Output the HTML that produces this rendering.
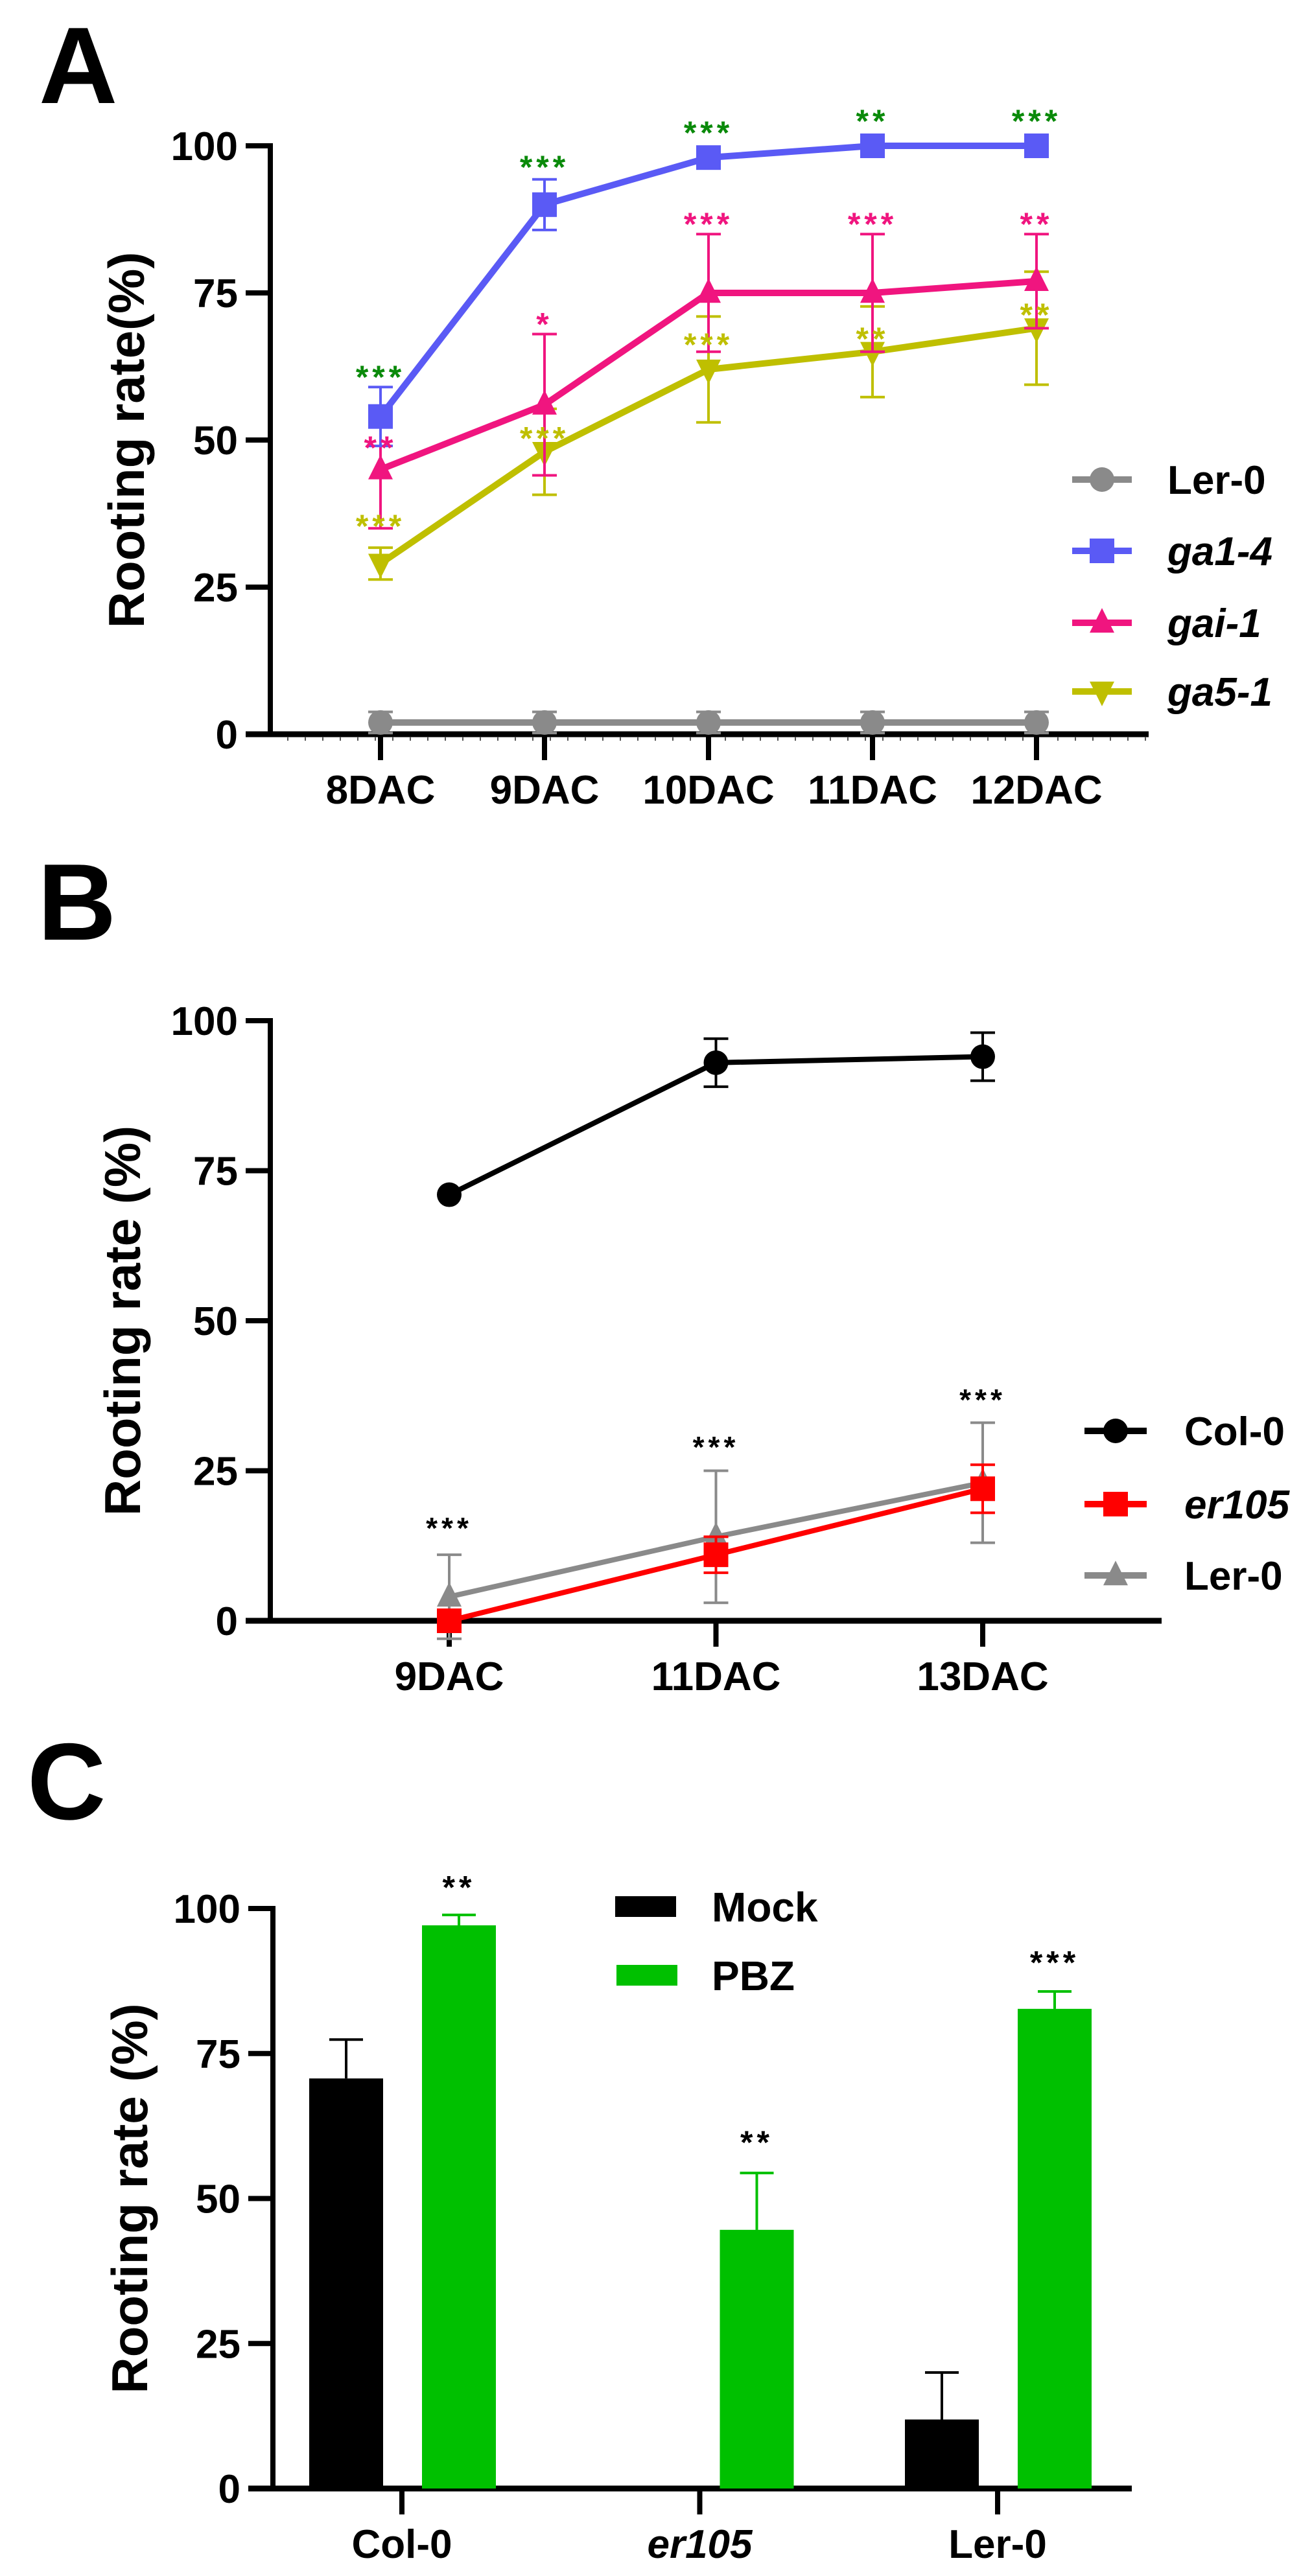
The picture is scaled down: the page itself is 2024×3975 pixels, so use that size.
<!DOCTYPE html>
<html><head><meta charset="utf-8">
<style>
html,body{margin:0;padding:0;background:#fff;}
svg{display:block;}
text{font-family:"Liberation Sans",Arial,sans-serif;font-weight:bold;}
</style></head>
<body>
<svg id="fig" width="2024" height="3975" viewBox="0 0 2024 3975" xmlns="http://www.w3.org/2000/svg">
<rect width="2024" height="3975" fill="#fff"/>
<text x="60" y="159" font-size="168">A</text>
<text x="58" y="1450" font-size="168">B</text>
<text x="42" y="2807" font-size="168">C</text>
<g id="pa"></g>
<g id="pb"></g>
<g id="pc"></g>
</svg>
<script>
// ---------- Panel A data ----------
const catsA = ["8DAC","9DAC","10DAC","11DAC","12DAC"];
const lerA = [2,2,2,2,2];
const lerAErr = [1.8,1.8,1.8,1.8,1.8];
const ga14 = [54,90,98,100,100];
const ga14Err = [5,4.3,0,0,0];
const gai1 = [45,56,75,75,77];
const gai1Err = [10,12,10,10,8];
const ga51 = [29,48,62,65,69];
const ga51Err = [2.7,7.3,9,7.7,9.6];
const starsGreen = ["***","***","***","**","***"];
const starsGreenY = [62,97.7,103.5,105.5,105.5];
const starsPink = ["**","*","***","***","**"];
const starsPinkY = [50,71,88,88,88];
const starsOlive = ["***","***","***","**","**"];
const starsOliveY = [36.7,51.6,67.5,68.5,72.6];
const ticksA = [0,25,50,75,100];

// ---------- Panel B data ----------
const catsB = ["9DAC","11DAC","13DAC"];
const col0B = [71,93,94];
const col0BErr = [0,4,4];
const er105B = [0,11,22];
const er105BErr = [0,3,4];
const lerB = [4,14,23];
const lerBErr = [7,11,10];
const starsB = ["***","***","***"];
const starsBY = [16.6,30.1,38];
const ticksB = [0,25,50,75,100];

// ---------- Panel C data ----------
const catsC = ["Col-0","er105","Ler-0"];
const mockC = [70.7,null,11.9];
const mockCErr = [6.7,null,8.1];
const pbzC = [97.1,44.6,82.7];
const pbzCErr = [1.8,9.8,3];
const starsC = ["**","**","***"];
const starsCY = [105,61,92];
const ticksC = [0,25,50,75,100];

const NS="http://www.w3.org/2000/svg";
function mk(parent,tag,attrs,txt){
  const e=document.createElementNS(NS,tag);
  for(const k in attrs) e.setAttribute(k,attrs[k]);
  if(txt!==undefined) e.textContent=txt;
  parent.appendChild(e); return e;
}
function yAxis(g,x0,yS,ticks,xEnd,title,titleX){
  const ax=mk(g,'line',{x1:x0,y1:yS(100)-4,x2:x0,y2:yS(0)+4,stroke:'#000','stroke-width':8});
  
  
  ticks.forEach(t=>{
    const tl=mk(g,'line',{x1:x0-38,y1:yS(t),x2:x0,y2:yS(t),stroke:'#000','stroke-width':8});
    
    
    const tx=mk(g,'text',{x:x0-50,y:yS(t)+22,'font-size':62,'text-anchor':'end'},String(t));
    
    
  });
  const xa=mk(g,'line',{x1:x0-38,y1:yS(0),x2:xEnd,y2:yS(0),stroke:'#000','stroke-width':9});
  
  
  const cy=(yS(0)+yS(100))/2;
  const tt=mk(g,'text',{x:titleX,y:cy,'font-size':78,'text-anchor':'middle',transform:`rotate(-90 ${titleX} ${cy})`},title);
  
  
}
function xTicks(g,cats,xS,y0,italicIdx){
  cats.forEach((c,i)=>{
    const l=mk(g,'line',{x1:xS(i),y1:y0,x2:xS(i),y2:y0+40,stroke:'#000','stroke-width':8});
    
    
    const t=mk(g,'text',{x:xS(i),y:y0+107,'font-size':62,'text-anchor':'middle','font-style':(italicIdx===i?'italic':'normal')},c);
    
    
  });
}
function marker(g,shape,x,y,color,s){
  let e;
  if(shape==='circle') e=mk(g,'circle',{cx:x,cy:y,r:s/2,fill:color});
  else if(shape==='square') e=mk(g,'rect',{x:x-s/2,y:y-s/2,width:s,height:s,fill:color});
  else if(shape==='up') e=mk(g,'polygon',{points:`${x},${y-s*0.6} ${x+s/2},${y+s*0.4} ${x-s/2},${y+s*0.4}`,fill:color});
  else e=mk(g,'polygon',{points:`${x},${y+s*0.6} ${x+s/2},${y-s*0.4} ${x-s/2},${y-s*0.4}`,fill:color});
  
  
  return e;
}
function series(g,vals,errs,xS,yS,color,shape,name,lw){
  const grp=mk(g,'g',{});
  
  
  vals.forEach((v,i)=>{
    if(!errs[i]) return;
    const eb=mk(grp,'path',{d:`M${xS(i)},${yS(v+errs[i])}V${yS(v-errs[i])}M${xS(i)-19},${yS(v+errs[i])}H${xS(i)+19}M${xS(i)-19},${yS(v-errs[i])}H${xS(i)+19}`,stroke:color,'stroke-width':4,fill:'none'});
    
    
  });
  const pl=mk(grp,'polyline',{points:vals.map((v,i)=>xS(i)+','+yS(v)).join(' '),stroke:color,'stroke-width':lw,fill:'none','stroke-linejoin':'round'});
  
  
  vals.forEach((v,i)=>marker(grp,shape,xS(i),yS(v),color,38));
}
function stars(g,labels,ys,xS,yS,color,fs){
  labels.forEach((s,i)=>{
    const t=mk(g,'text',{x:xS(i),y:yS(ys[i])+fs*0.58,'font-size':fs,'text-anchor':'middle',fill:color,'letter-spacing':6,'font-weight':'normal'},s);
    
    
  });
}
function legendRow(g,y,x1,x2,tx,color,shape,label,italic){
  const lg=mk(g,'g',{});
  
  
  mk(lg,'line',{x1:x1,y1:y,x2:x2,y2:y,stroke:color,'stroke-width':10});
  marker(lg,shape,(x1+x2)/2,y,color,38);
  mk(lg,'text',{x:tx,y:y+22,'font-size':62,'font-style':italic?'italic':'normal'},label);
}

// ---------- Panel A ----------
(function(){
  const g=document.getElementById('pa');
  const y0=1133,y100=225,x0=417;
  const yS=v=>y0-(y0-y100)*v/100;
  const xS=i=>587+i*253;
  yAxis(g,x0,yS,ticksA,1772,'Rooting rate(%)',222);
  for(let x=x0+27;x<1772;x+=27){ if(catsA.some((c,i)=>Math.abs(xS(i)-x)<8)) continue;
    const m=mk(g,'line',{x1:x,y1:y0+4,x2:x,y2:y0+10,stroke:'#555','stroke-width':2});
    
    
  }
  xTicks(g,catsA,xS,y0);
  series(g,ga51,ga51Err,xS,yS,'#bfbf00','down','ga5-1',10);
  series(g,gai1,gai1Err,xS,yS,'#f0157f','up','gai-1',10);
  series(g,ga14,ga14Err,xS,yS,'#5a5af5','square','ga1-4',10);
  series(g,lerA,lerAErr,xS,yS,'#8a8a8a','circle','ler-0',10);
  stars(g,starsGreen,starsGreenY,xS,yS,'#0a8a0a',50);
  stars(g,starsPink,starsPinkY,xS,yS,'#f0157f',50);
  stars(g,starsOlive,starsOliveY,xS,yS,'#bfbf00',50);
  legendRow(g,740,1654,1746,1801,'#8a8a8a','circle','Ler-0',false);
  legendRow(g,850,1654,1746,1801,'#5a5af5','square','ga1-4',true);
  legendRow(g,961,1654,1746,1801,'#f0157f','up','gai-1',true);
  legendRow(g,1067,1654,1746,1801,'#bfbf00','down','ga5-1',true);
})();

// ---------- Panel B ----------
(function(){
  const g=document.getElementById('pb');
  const y0=2501,y100=1575,x0=417;
  const yS=v=>y0-(y0-y100)*v/100;
  const xS=i=>693+i*411.5;
  yAxis(g,x0,yS,ticksB,1792,'Rooting rate (%)',216);
  xTicks(g,catsB,xS,y0);
  series(g,lerB,lerBErr,xS,yS,'#8a8a8a','up','ler-0',8);
  series(g,er105B,er105BErr,xS,yS,'#ff0000','square','er105',8);
  series(g,col0B,col0BErr,xS,yS,'#000','circle','col-0',8);
  stars(g,starsB,starsBY,xS,yS,'#000',46);
  legendRow(g,2208,1673,1769,1827,'#000','circle','Col-0',false);
  legendRow(g,2321,1673,1769,1827,'#ff0000','square','er105',true);
  legendRow(g,2431,1673,1769,1827,'#8a8a8a','up','Ler-0',false);
})();

// ---------- Panel C ----------
(function(){
  const g=document.getElementById('pc');
  const y0=3840,y100=2945,x0=421;
  const yS=v=>y0-(y0-y100)*v/100;
  const xS=i=>620+i*459.5;
  yAxis(g,x0,yS,ticksC,1746,'Rooting rate (%)',227);
  xTicks(g,catsC,xS,y0,1);
  const bw=114;
  function bars(vals,errs,off,color,name){
    vals.forEach((v,i)=>{
      if(v===null) return;
      const cx=xS(i)+off;
      const eb=mk(g,'path',{d:`M${cx},${yS(v)}V${yS(v+errs[i])}M${cx-26},${yS(v+errs[i])}H${cx+26}`,stroke:color,'stroke-width':4,fill:'none'});
      
      
      const r=mk(g,'rect',{x:cx-bw/2,y:yS(v),width:bw,height:yS(0)-yS(v),fill:color});
      
      
    });
  }
  bars(mockC,mockCErr,-86,'#000','mock');
  bars(pbzC,pbzCErr,88,'#00c000','pbz');
  stars(g,starsC,starsCY,i=>xS(i)+88,yS,'#000',50);
  const l1=mk(g,'g',{});
  
  
  mk(l1,'rect',{x:949,y:2926,width:94,height:32,fill:'#000'});
  mk(l1,'text',{x:1098,y:2965,'font-size':64},'Mock');
  const l2=mk(g,'g',{});
  
  
  mk(l2,'rect',{x:951,y:3032,width:94,height:32,fill:'#00c000'});
  mk(l2,'text',{x:1098,y:3071,'font-size':64},'PBZ');
})();
</script>
</body></html>
